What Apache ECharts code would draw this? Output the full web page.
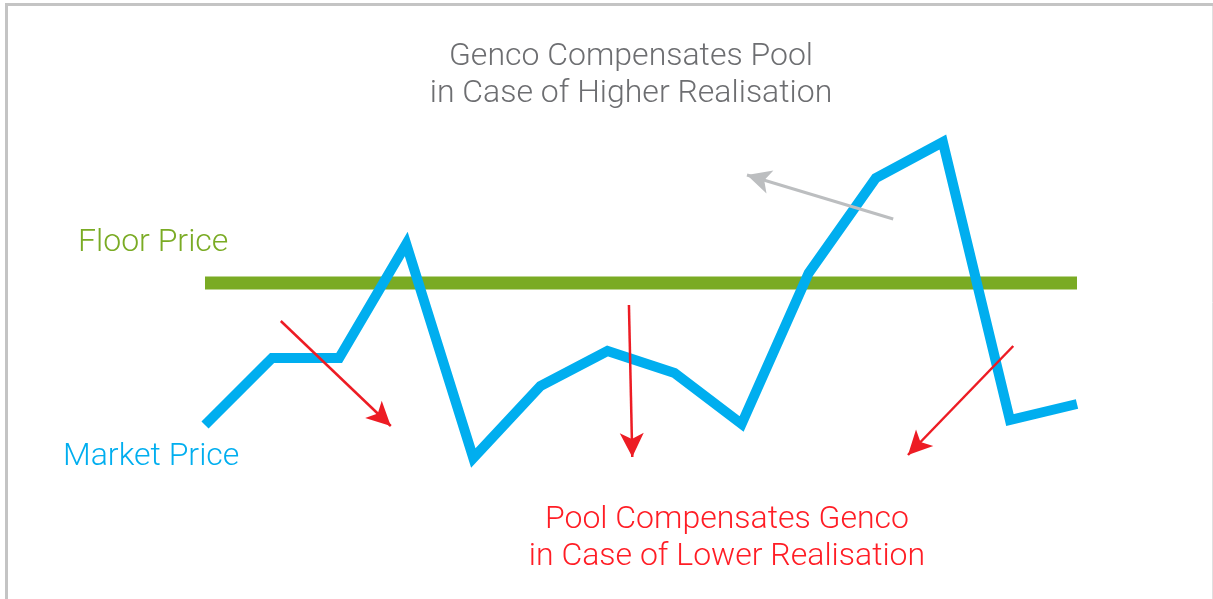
<!DOCTYPE html>
<html>
<head>
    <meta charset="utf-8">
    <title>Floor Price</title>
    <style>
        html, body { margin: 0; padding: 0; background: #fff; }
        #container { width: 1213px; height: 599px; }
    </style>
</head>
<body>
    <div id="container"></div>
    <script src="https://cdn.jsdelivr.net/npm/echarts@6/dist/echarts.min.js"></script>
    <script type="text/javascript">
    // market price, one value per period
    var periods = [0, 1, 2, 3, 4, 5, 6, 7, 8, 9, 10, 11, 12, 13];
    var marketPrice = [18.75, 35.5, 35.5, 64, 10.5, 28.5, 37.25, 31.75, 19, 56.75, 80.5, 89.5, 20, 24];
    var floorPrice = 54.25;

    // arrows: [fromX, fromY, toX, toY] in chart units
    var redArrows = [
        [1.13, 44.75, 2.77, 18.5],
        [6.32, 48.75, 6.37, 10.75],
        [12.05, 38.5, 10.48, 11.25]
    ];
    var greyArrows = [
        [10.26, 70.25, 8.08, 81.25]
    ];

    var blue = '#00aeef';
    var green = '#7aab24';
    var red = '#ed1c24';
    var grey = '#bcbec0';
    var font = 'Roboto, "Open Sans", sans-serif';

    var myChart = echarts.init(document.getElementById('container'));

    function arrowLines(list, color, width) {
        return list.map(function (a) {
            var ls = { color: color, width: width, type: 'solid' };
            return [{ coord: [a[0], a[1]], lineStyle: ls }, { coord: [a[2], a[3]], lineStyle: ls }];
        });
    }

    // one text element per line
    function label(text, x, y, color, align) {
        return {
            type: 'text', z: 10,
            style: {
                x: x, y: y, text: text, fill: color,
                textAlign: align || 'left', textVerticalAlign: 'middle',
                font: '300 32px ' + font
            }
        };
    }

    var option = {
        animation: false,
        grid: { left: 205, right: 136, top: 100, bottom: 99 },
        xAxis: { type: 'value', min: 0, max: 13, show: false },
        yAxis: { type: 'value', min: 0, max: 100, show: false },
        series: [
            {
                name: 'Floor Price',
                type: 'line',
                z: 2,
                symbol: 'none',
                lineStyle: { color: green, width: 13, cap: 'butt' },
                data: [[periods[0], floorPrice], [periods[periods.length - 1], floorPrice]]
            },
            {
                name: 'Market Price',
                type: 'line',
                z: 3,
                symbol: 'none',
                lineStyle: { color: blue, width: 10, cap: 'butt', join: 'miter' },
                data: periods.map(function (p, i) { return [p, marketPrice[i]]; })
            },
            {
                name: 'arrows',
                type: 'line',
                z: 5,
                data: [],
                markLine: {
                    silent: true,
                    symbol: ['none', 'arrow'],
                    symbolSize: [18, 24],
                    label: { show: false },
                    lineStyle: { type: 'solid', width: 2.5, color: red },
                    data: arrowLines(redArrows, red, 2.5).concat(arrowLines(greyArrows, grey, 3))
                }
            }
        ],
        graphic: [
            { type: 'line', shape: { x1: 6.5, y1: 4.5, x2: 1213, y2: 4.5 }, style: { stroke: '#c4c4c4', lineWidth: 3 } },
            { type: 'line', shape: { x1: 6.5, y1: 3, x2: 6.5, y2: 599 }, style: { stroke: '#c4c4c4', lineWidth: 3 } },
            { type: 'line', shape: { x1: 1212.5, y1: 6, x2: 1212.5, y2: 599 }, style: { stroke: '#e0e0e0', lineWidth: 1 } },
            label('Genco Compensates Pool', 631, 57, '#6d6e71', 'center'),
            label('in Case of Higher Realisation', 631, 94, '#6d6e71', 'center'),
            label('Floor Price', 78, 243, green),
            label('Market Price', 63, 457, blue),
            label('Pool Compensates Genco', 727, 520, '#ff1d25', 'center'),
            label('in Case of Lower Realisation', 727, 557, '#ff1d25', 'center')
        ]
    };

    myChart.setOption(option);
    </script>
</body>
</html>
